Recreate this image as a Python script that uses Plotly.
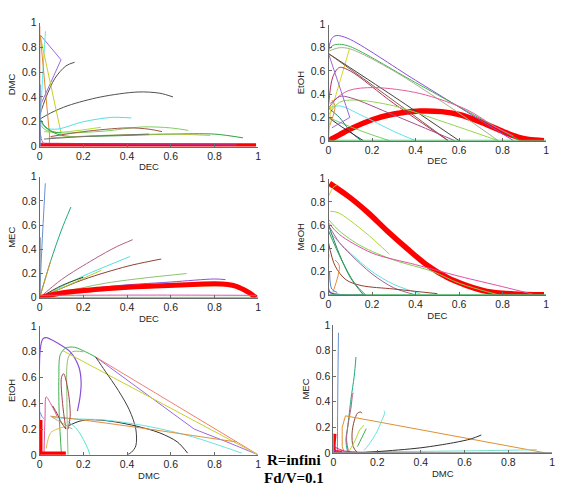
import plotly.graph_objects as go

# ---------------- data ----------------
# Panel 1: DEC (x) vs DMC (y)
p1_x = [
    [0.0, 0.3, 0.6, 0.99],
    [0.0, 0.5, 0.9],
    [0.0, 0.0],
    [0.0, 0.05, 0.13, 0.28, 0.45, 0.55, 0.61],
    [0.0, 0.03, 0.07, 0.12, 0.16],
    [0.003, 0.098, 0.003],
    [0.005, 0.015, 0.027],
    [0.003, 0.098],
    [0.003, 0.045, 0.045],
    [0.0, 0.03, 0.08, 0.2, 0.33, 0.42],
    [0.02, 0.09, 0.18, 0.28],
    [0.0, 0.03, 0.1, 0.3, 0.47, 0.6, 0.68],
    [0.05, 0.2, 0.4, 0.5, 0.56],
    [0.0, 0.03, 0.1, 0.3, 0.6, 0.8, 0.93],
    [0.05, 0.3, 0.6, 0.78],
    [0.02, 0.2, 0.5],
    [0.0, 0.02, 0.06, 0.1],
    [0.0, 0.01, 0.02],
    [0.003, 0.003],
]
p1_y = [
    [0.008, 0.008, 0.008, 0.008],
    [0.025, 0.02, 0.015],
    [0.0, 0.97],
    [0.22, 0.27, 0.33, 0.40, 0.44, 0.43, 0.40],
    [0.25, 0.40, 0.55, 0.65, 0.68],
    [0.9, 0.70, 0.33],
    [0.25, 0.6, 0.93],
    [0.89, 0.11],
    [0.9, 0.1, 0.03],
    [0.2, 0.15, 0.14, 0.2, 0.235, 0.23],
    [0.12, 0.115, 0.13, 0.155],
    [0.18, 0.13, 0.11, 0.125, 0.158, 0.15, 0.13],
    [0.08, 0.12, 0.15, 0.14, 0.12],
    [0.23, 0.15, 0.09, 0.085, 0.1, 0.1, 0.07],
    [0.07, 0.09, 0.1, 0.09],
    [0.06, 0.08, 0.1],
    [0.23, 0.17, 0.12, 0.11],
    [0.15, 0.05, 0.02],
    [0.0, 0.5],
]
p1_style = [
    ("#ff0000", 4.5, "linear"), ("#d0206a", 1.5, "linear"), ("#a0522d", 1.2, "linear"),
    ("#505050", 1, "spline"), ("#505050", 1, "spline"), ("#9a6ae0", 1, "linear"),
    ("#60e8e8", 1, "spline"), ("#c8d020", 1, "linear"), ("#e08a30", 1, "linear"),
    ("#50e0e0", 1, "spline"), ("#a8e030", 1, "spline"), ("#80d060", 1, "spline"),
    ("#9a5a40", 1, "spline"), ("#30a040", 1, "spline"), ("#b0c040", 1, "spline"),
    ("#707070", 1, "spline"), ("#40b050", 1, "spline"), ("#e050a0", 1, "spline"),
    ("#7090c0", 1, "linear"),
]

# Panel 2: DEC (x) vs EtOH (y)
p2_x = [
    [0.0, 0.05, 0.1, 0.2, 0.3, 0.42, 0.52, 0.6, 0.7, 0.8, 0.87, 0.92, 0.99],
    [0.0, 0.015, 0.035, 0.09, 0.4, 0.85],
    [0.0, 0.02, 0.05, 0.1, 0.4, 0.88],
    [0.0, 0.05, 0.1, 0.3, 0.55, 0.78],
    [0.01, 0.098],
    [0.0, 0.3, 0.6],
    [0.0, 0.2, 0.55],
    [0.0, 0.02, 0.05, 0.1, 0.3, 0.55],
    [0.008, 0.09, 0.21, 0.42, 0.636, 0.76, 0.85],
    [0.0, 0.05, 0.12, 0.3, 0.5, 0.78],
    [0.0, 0.05, 0.1, 0.3, 0.58],
    [0.0, 0.05, 0.15, 0.3, 0.4],
    [0.0, 0.1, 0.2, 0.28],
    [0.0, 0.05, 0.1, 0.15],
    [0.0, 0.06, 0.16],
    [0.0, 0.098, 0.015],
    [0.0, 0.03, 0.015],
    [0.0, 0.01],
    [0.0, 1.0],
]
p2_y = [
    [0.0, 0.05, 0.1, 0.18, 0.23, 0.255, 0.25, 0.225, 0.16, 0.08, 0.03, 0.01, 0.0],
    [0.78, 0.88, 0.905, 0.88, 0.52, 0.0],
    [0.78, 0.82, 0.83, 0.81, 0.5, 0.0],
    [0.77, 0.80, 0.79, 0.6, 0.3, 0.0],
    [0.24, 0.80],
    [0.75, 0.38, 0.0],
    [0.75, 0.48, 0.0],
    [0.3, 0.55, 0.63, 0.6, 0.32, 0.0],
    [0.32, 0.43, 0.457, 0.406, 0.266, 0.126, 0.04],
    [0.22, 0.33, 0.35, 0.3, 0.18, 0.0],
    [0.28, 0.38, 0.37, 0.22, 0.0],
    [0.28, 0.3, 0.22, 0.08, 0.0],
    [0.2, 0.12, 0.05, 0.0],
    [0.28, 0.2, 0.08, 0.0],
    [0.2, 0.12, 0.0],
    [0.75, 0.2, 0.11],
    [0.1, 0.3, 0.35],
    [0.0, 0.3],
    [0.003, 0.003],
]
p2_style = [
    ("#ff0000", 5.5, "spline"), ("#8a4fd8", 1, "spline"), ("#40b050", 1, "spline"),
    ("#a8b090", 1, "spline"), ("#d8d820", 1, "linear"), ("#404040", 1, "spline"),
    ("#8a5a40", 1, "spline"), ("#b03060", 1, "spline"), ("#e85a9a", 1, "spline"),
    ("#90d850", 1, "spline"), ("#a05090", 1, "spline"), ("#60e0e8", 1, "spline"),
    ("#70d060", 1, "spline"), ("#208070", 1, "spline"), ("#303030", 1, "spline"),
    ("#9a6ae0", 1, "linear"), ("#e09040", 1, "spline"), ("#e0d040", 1, "linear"),
    ("#40b060", 1, "linear"),
]

# Panel 3: DEC (x) vs MEC (y)
p3_x = [
    [0.0, 0.01, 0.026],
    [0.002, 0.003],
    [0.0, 0.05, 0.1, 0.143],
    [0.0, 0.1, 0.25, 0.35, 0.426],
    [0.0, 0.2, 0.414],
    [0.0, 0.2, 0.4, 0.5, 0.556],
    [0.0, 0.3, 0.672],
    [0.0, 0.15, 0.281],
    [0.0, 0.1, 0.2],
    [0.0, 0.03, 0.05],
    [0.0, 0.3, 0.6, 0.8, 0.85],
    [0.0, 0.3, 0.6, 0.85],
    [0.0, 0.1, 0.3, 0.5, 0.7, 0.8, 0.86, 0.9, 0.93, 0.96, 0.99],
    [0.0, 0.5, 0.99],
    [0.0, 1.0],
]
p3_y = [
    [0.0, 0.4, 0.946],
    [0.0, 0.5],
    [0.0, 0.3, 0.56, 0.75],
    [0.0, 0.15, 0.32, 0.42, 0.48],
    [0.0, 0.18, 0.341],
    [0.0, 0.15, 0.26, 0.3, 0.32],
    [0.0, 0.12, 0.2],
    [0.0, 0.12, 0.226],
    [0.0, 0.1, 0.17],
    [0.0, 0.18, 0.3],
    [0.0, 0.09, 0.13, 0.155, 0.15],
    [0.0, 0.06, 0.09, 0.1],
    [0.0, 0.04, 0.075, 0.095, 0.11, 0.115, 0.11, 0.095, 0.07, 0.04, 0.0],
    [0.02, 0.022, 0.02],
    [0.003, 0.003],
]
p3_style = [
    ("#6a8fd0", 1, "spline"), ("#8090a0", 1, "linear"), ("#20a880", 1, "spline"),
    ("#b06080", 1, "spline"), ("#50e0e8", 1, "spline"), ("#904030", 1, "spline"),
    ("#90c070", 1, "spline"), ("#b0d030", 1, "spline"), ("#404020", 1, "spline"),
    ("#e09030", 1, "spline"), ("#8a4fd8", 1, "spline"), ("#e0a020", 1, "spline"),
    ("#ff0000", 5, "spline"), ("#e050b0", 1, "spline"), ("#40b060", 1, "linear"),
]

# Panel 4: DEC (x) vs MeOH (y)
p4_x = [
    [0.005, 0.09, 0.18, 0.27, 0.36, 0.45, 0.545, 0.636, 0.727, 0.85, 0.99],
    [0.0, 0.02, 0.04],
    [0.008, 0.045, 0.167, 0.28],
    [0.0, 0.05, 0.15, 0.3, 0.48, 0.6, 0.78],
    [0.0, 0.05, 0.2, 0.4, 0.6, 0.8, 0.95],
    [0.0, 0.05, 0.1, 0.2, 0.3, 0.42],
    [0.0, 0.05, 0.1, 0.2, 0.3, 0.4],
    [0.0, 0.03, 0.08, 0.15, 0.3, 0.5],
    [0.0, 0.05, 0.1, 0.16],
    [0.0, 0.06, 0.12, 0.17],
    [0.02, 0.05, 0.03],
    [0.0, 0.003, 0.02, 0.17],
    [0.005, 0.015, 0.04],
    [0.0, 1.0],
]
p4_y = [
    [0.96, 0.85, 0.71, 0.55, 0.40, 0.26, 0.15, 0.08, 0.03, 0.008, 0.0],
    [0.85, 0.92, 0.95],
    [0.72, 0.707, 0.54, 0.35],
    [0.65, 0.55, 0.42, 0.3, 0.2, 0.1, 0.0],
    [0.62, 0.52, 0.36, 0.26, 0.16, 0.07, 0.0],
    [0.55, 0.45, 0.36, 0.2, 0.09, 0.01],
    [0.6, 0.45, 0.35, 0.18, 0.06, 0.0],
    [0.45, 0.25, 0.13, 0.08, 0.05, 0.01],
    [0.6, 0.35, 0.15, 0.0],
    [0.55, 0.3, 0.1, 0.0],
    [0.02, 0.25, 0.3],
    [0.35, 0.03, 0.01, 0.0],
    [0.2, 0.05, 0.02],
    [0.003, 0.003],
]
p4_style = [
    ("#ff0000", 5.5, "spline"), ("#e0c040", 1, "spline"), ("#a8d830", 1, "spline"),
    ("#80d050", 1, "spline"), ("#e050a0", 1, "spline"), ("#60e0e8", 1, "spline"),
    ("#a06090", 1, "spline"), ("#904030", 1, "spline"), ("#208070", 1, "spline"),
    ("#30a050", 1, "spline"), ("#e09030", 1, "spline"), ("#6a40d0", 1.5, "spline"),
    ("#5080d0", 1, "spline"), ("#40b060", 1, "linear"),
]

# Panel 5: DMC (x) vs EtOH (y)
p5_x = [
    [0.003, 0.003, 0.015, 0.03, 0.08, 0.14, 0.18, 0.19, 0.185, 0.173],
    [0.256, 0.707, 0.857, 1.0],
    [0.256, 1.0],
    [0.105, 1.0],
    [0.1, 0.09, 0.088, 0.095, 0.12, 0.16, 0.21, 0.256],
    [0.13, 0.125, 0.13, 0.15, 0.2],
    [0.256, 0.3, 0.36, 0.41, 0.44, 0.44, 0.42, 0.4],
    [0.135, 0.18, 0.23, 0.33, 0.45, 0.55, 0.63, 0.677],
    [0.06, 0.15, 0.3, 0.5, 0.7, 0.925],
    [0.13, 0.17, 0.2, 0.22, 0.23],
    [0.05, 0.2, 0.5, 0.7, 0.9],
    [0.12, 0.105, 0.1, 0.11, 0.13, 0.14, 0.13],
    [0.02, 0.025, 0.03, 0.05, 0.08],
    [0.005, 0.005, 0.005, 0.02, 0.12],
    [0.03, 0.05, 0.08, 0.12],
    [0.05, 0.1, 0.15],
    [0.06, 0.08, 0.1, 0.12],
    [0.003, 0.01, 0.02],
]
p5_y = [
    [0.0, 0.82, 0.9, 0.91, 0.87, 0.8, 0.68, 0.56, 0.45, 0.34],
    [0.76, 0.2, 0.1, 0.0],
    [0.76, 0.0],
    [0.81, 0.0],
    [0.0, 0.3, 0.6, 0.78, 0.83, 0.835, 0.80, 0.76],
    [0.0, 0.4, 0.75, 0.8, 0.8],
    [0.76, 0.65, 0.5, 0.35, 0.2, 0.07, 0.02, 0.0],
    [0.228, 0.26, 0.273, 0.26, 0.22, 0.17, 0.1, 0.013],
    [0.29, 0.28, 0.27, 0.22, 0.14, 0.013],
    [0.26, 0.2, 0.12, 0.05, 0.0],
    [0.3, 0.27, 0.2, 0.15, 0.1],
    [0.2, 0.4, 0.6, 0.63, 0.5, 0.3, 0.2],
    [0.0, 0.3, 0.45, 0.4, 0.3],
    [0.27, 0.1, 0.012, 0.012, 0.012],
    [0.05, 0.17, 0.2, 0.22],
    [0.3, 0.25, 0.2],
    [0.38, 0.32, 0.25, 0.2],
    [0.33, 0.3, 0.28],
]
p5_style = [
    ("#8a4fd8", 1.2, "spline"), ("#9a6ae0", 1, "linear"), ("#f08070", 1, "linear"),
    ("#c8d030", 1, "linear"), ("#40b050", 1, "spline"), ("#90c070", 1, "spline"),
    ("#404040", 1, "spline"), ("#303030", 1, "spline"), ("#70e0e0", 1, "spline"),
    ("#50e8d0", 1, "spline"), ("#e09040", 1, "spline"), ("#a04050", 1, "spline"),
    ("#e050a0", 1, "spline"), ("#ff0000", 3.5, "linear"), ("#e0c040", 1, "spline"),
    ("#a8b090", 1, "spline"), ("#904030", 1, "spline"), ("#6a8fd0", 1, "spline"),
]

# Panel 6: DMC (x) vs MEC (y)
p6_x = [
    [0.018, 0.02, 0.023],
    [0.065, 0.057, 0.065, 0.08, 0.095, 0.103],
    [0.07, 0.06, 0.065, 0.08, 0.087, 0.09],
    [0.11, 0.09, 0.085, 0.095, 0.11, 0.125, 0.13],
    [0.05, 0.04, 0.04, 0.055, 0.97],
    [0.14, 0.16, 0.2, 0.22, 0.235, 0.23],
    [0.15, 0.4, 0.7, 0.93],
    [0.07, 0.1, 0.12, 0.14],
    [0.11, 0.13, 0.15],
    [0.1, 0.2, 0.4, 0.55, 0.63, 0.676],
    [0.005, 0.005, 0.02, 0.04],
    [0.0, 0.02, 0.1],
    [0.0, 0.05, 0.15],
    [0.0, 1.0],
]
p6_y = [
    [0.0, 0.5, 0.94],
    [0.0, 0.1, 0.2, 0.42, 0.6, 0.75],
    [0.0, 0.1, 0.2, 0.35, 0.45, 0.47],
    [0.0, 0.05, 0.15, 0.25, 0.31, 0.32, 0.31],
    [0.0, 0.05, 0.2, 0.29, 0.0],
    [0.02, 0.06, 0.17, 0.25, 0.32, 0.33],
    [0.01, 0.012, 0.018, 0.025],
    [0.01, 0.1, 0.18, 0.216],
    [0.05, 0.12, 0.19],
    [0.0, 0.01, 0.04, 0.08, 0.11, 0.14],
    [0.15, 0.01, 0.005, 0.003],
    [0.02, 0.01, 0.005],
    [0.05, 0.015, 0.005],
    [0.002, 0.002],
]
p6_style = [
    ("#6a8fd0", 1, "spline"), ("#20a880", 1, "spline"), ("#b06080", 1, "spline"),
    ("#904030", 1, "spline"), ("#e09030", 1, "linear"), ("#60e8e0", 1, "spline"),
    ("#70e0d0", 1, "spline"), ("#a8d830", 1, "spline"), ("#40b050", 1, "spline"),
    ("#303030", 1, "spline"), ("#ff0000", 4, "spline"), ("#8a4fd8", 1, "spline"),
    ("#d02090", 1, "spline"), ("#909090", 1, "linear"),
]

x_titles = ["DEC", "DEC", "DEC", "DEC", "DMC", "DMC"]
y_titles = ["DMC", "EtOH", "MEC", "MeOH", "EtOH", "MEC"]
tick_vals = [0, 0.2, 0.4, 0.6, 0.8, 1]
tick_text = ["0", "0.2", "0.4", "0.6", "0.8", "1"]
note_lines = ["R=infini", "Fd/V=0.1"]

# ---------------- layout (pixel boxes) ----------------
W, H = 564, 495
boxes = [  # (left, right, top, bottom) in pixels
    (37, 258, 17, 144),
    (329, 549, 19, 138),
    (37, 258, 175, 299),
    (329, 549, 177, 296),
    (37, 258, 328, 460),
    (334, 555, 327, 458),
]

panels = [(p1_x, p1_y, p1_style), (p2_x, p2_y, p2_style), (p3_x, p3_y, p3_style),
          (p4_x, p4_y, p4_style), (p5_x, p5_y, p5_style), (p6_x, p6_y, p6_style)]

fig = go.Figure()
layout = dict(
    width=W, height=H, margin=dict(l=0, r=0, t=0, b=0),
    paper_bgcolor="white", plot_bgcolor="white", showlegend=False,
    font=dict(family="Liberation Sans, Arial, sans-serif", color="#262626"),
)

for i, ((xs, ys, st), box) in enumerate(zip(panels, boxes)):
    n = i + 1
    xa = "x" if n == 1 else f"x{n}"
    ya = "y" if n == 1 else f"y{n}"
    for cx, cy, (col, w, shp) in zip(xs, ys, st):
        fig.add_trace(go.Scatter(
            x=cx, y=cy, mode="lines", xaxis=xa, yaxis=ya,
            line=dict(color=col, width=w, shape=shp, smoothing=0.9),
            hoverinfo="skip"))
    l, r, t, b = box
    common = dict(range=[0, 1], showgrid=False, zeroline=False, showline=True,
                  linecolor="#6b6b6b", linewidth=1, ticks="inside", ticklen=3,
                  tickcolor="#6b6b6b", tickvals=tick_vals, ticktext=tick_text,
                  tickfont=dict(size=10.5, color="#262626"), fixedrange=True)
    layout["xaxis" if n == 1 else f"xaxis{n}"] = dict(
        common, domain=[l / W, r / W], anchor=ya,
        title=dict(text=x_titles[i], font=dict(size=9.5), standoff=2))
    layout["yaxis" if n == 1 else f"yaxis{n}"] = dict(
        common, domain=[1 - b / H, 1 - t / H], anchor=xa,
        title=dict(text=y_titles[i], font=dict(size=9.5), standoff=4))

serif = dict(family="Liberation Serif, Times New Roman, serif", size=15, color="black")
layout["annotations"] = [
    dict(text="<b>" + note_lines[0] + "</b>", x=294 / W, y=1 - 465 / H,
         xref="paper", yref="paper", showarrow=False, font=serif,
         xanchor="center", yanchor="middle"),
    dict(text="<b>" + note_lines[1] + "</b>", x=294 / W, y=1 - 484 / H,
         xref="paper", yref="paper", showarrow=False, font=serif,
         xanchor="center", yanchor="middle"),
]

fig.update_layout(**layout)
fig.write_html("out.html")
